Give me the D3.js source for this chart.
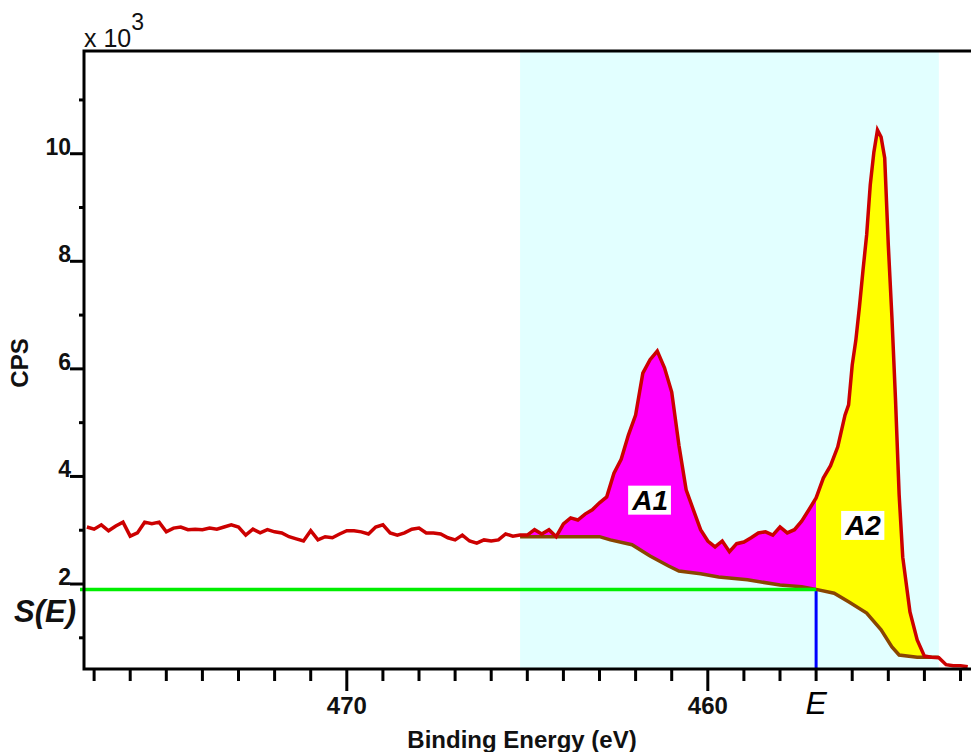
<!DOCTYPE html>
<html>
<head>
<meta charset="utf-8">
<script src="https://cdn.jsdelivr.net/npm/d3@7"></script>
<style>
	body { margin: 0; background: #fff; }
	svg { display: block; font-family: "Liberation Sans", Arial, sans-serif; }
</style>
</head>
<body>
<svg id="svg"></svg>
<script>

// spectrum, binding energy (eV) and counts (x 10^3 CPS)
const energy = [
	477.2, 477.0, 476.8, 476.6, 476.4, 476.2, 476.0, 475.8, 475.6, 475.4,
	475.2, 475.0, 474.8, 474.6, 474.4, 474.2, 474.0, 473.8, 473.6, 473.4,
	473.2, 473.0, 472.8, 472.6, 472.4, 472.2, 472.0, 471.8, 471.6, 471.4,
	471.2, 471.0, 470.8, 470.6, 470.4, 470.2, 470.0, 469.8, 469.6, 469.4,
	469.2, 469.0, 468.8, 468.6, 468.4, 468.2, 468.0, 467.8, 467.6, 467.4,
	467.2, 467.0, 466.8, 466.6, 466.4, 466.2, 466.0, 465.8, 465.6, 465.4,
	465.2, 465.0, 464.8, 464.6, 464.4, 464.2, 464.0, 463.8, 463.6, 463.4,
	463.2, 463.0, 462.8, 462.6, 462.4, 462.2, 462.0, 461.8, 461.6, 461.4,
	461.2, 461.0, 460.8, 460.6, 460.4, 460.2, 460.0, 459.8, 459.6, 459.4,
	459.2, 459.0, 458.8, 458.6, 458.4, 458.2, 458.0, 457.8, 457.6, 457.4,
	457.2, 457.0, 456.8, 456.6, 456.4, 456.2, 456.1, 456.0, 455.9, 455.8,
	455.7, 455.6, 455.5, 455.4, 455.3, 455.2, 455.1, 455.0, 454.9, 454.8,
	454.7, 454.6, 454.4, 454.2, 454.0, 453.8, 453.6, 453.4, 453.2, 453.0,
	452.8
]
const counts = [
	3.06, 3.02, 3.10, 2.99, 3.08, 3.15, 2.89, 2.95, 3.15, 3.12,
	3.15, 2.97, 3.04, 3.06, 3.01, 3.02, 3.01, 3.04, 3.02, 3.06,
	3.10, 3.06, 2.91, 3.02, 2.95, 3.01, 2.97, 2.95, 2.88, 2.84,
	2.80, 2.99, 2.82, 2.88, 2.86, 2.93, 2.99, 2.99, 2.97, 2.93,
	3.06, 3.10, 2.95, 2.91, 2.95, 3.02, 3.04, 2.95, 2.95, 2.93,
	2.86, 2.82, 2.91, 2.80, 2.76, 2.82, 2.80, 2.82, 2.93, 2.89,
	2.91, 2.91, 3.01, 2.93, 3.01, 2.88, 3.12, 3.23, 3.19, 3.30,
	3.38, 3.51, 3.62, 4.06, 4.32, 4.77, 5.14, 5.92, 6.17, 6.33,
	6.02, 5.57, 4.58, 3.75, 3.38, 3.01, 2.80, 2.69, 2.80, 2.60,
	2.75, 2.78, 2.86, 2.95, 2.97, 2.91, 3.06, 2.95, 3.01, 3.17,
	3.38, 3.60, 3.97, 4.20, 4.55, 5.14, 5.33, 6.07, 6.53, 7.15,
	7.84, 8.49, 9.42, 10.03, 10.44, 10.31, 9.92, 8.30, 6.96, 5.42,
	3.66, 2.50, 1.48, 0.96, 0.66, 0.64, 0.63, 0.50, 0.48, 0.48,
	0.46
]

// background under the peaks
const bgEnergy = [465.2, 464.2, 463.0, 462.7, 462.1, 461.6, 461.1, 460.8, 460.2, 459.7, 458.9, 458.0, 457.4, 457.0, 456.5, 456.1, 455.6, 455.2, 454.9, 454.7, 454.2, 453.6]
const bgCounts = [2.88, 2.88, 2.88, 2.82, 2.73, 2.52, 2.34, 2.24, 2.19, 2.13, 2.08, 1.98, 1.95, 1.90, 1.83, 1.67, 1.46, 1.15, 0.83, 0.68, 0.64, 0.64]

const regionEnergy = [465.2, 453.6]
const markE = 457.0
const markS = 1.90

const peakLabels = ['A1', 'A2']
const peakLabelEnergy = [461.6, 455.7]
const peakLabelCounts = [3.57, 3.10]

const xMajor = [470, 460]
const xMinor = d3.range(453, 478)
const yMajor = [2, 4, 6, 8, 10]
const yMinor = [1, 3, 5, 7, 9, 11]

const doIt = () => {

	let w = 971
	let h = 752
	let pLeft = 84
	let pTop = 51
	let pBottom = 669

	let svg = d3.select('#svg')
		.attr('width', w).attr('height', h)

	let x = d3.scaleLinear()
		.domain([477.28, 452.0])
		.range([pLeft, pLeft + 25.28 * 36.1])

	let y = d3.scaleLinear()
		.domain([0.42, 11.91])
		.range([pBottom, pTop])

	svg.append('clipPath').attr('id', 'clip')
		.append('rect')
		.attr('x', pLeft).attr('y', pTop)
		.attr('width', w - pLeft).attr('height', pBottom - pTop)

	let plot = svg.append('g').attr('clip-path', 'url(#clip)')

	// highlighted region
	plot.append('rect')
		.attr('x', x(regionEnergy[0]))
		.attr('y', pTop)
		.attr('width', x(regionEnergy[1]) - x(regionEnergy[0]))
		.attr('height', pBottom - pTop)
		.attr('fill', '#e2ffff')

	const spectrum = energy.map((e, i) => [e, counts[i]])
	const background = bgEnergy.map((e, i) => [e, bgCounts[i]])

	let lineMkr = d3.line()
		.x(d => x(d[0]))
		.y(d => y(d[1]))

	const between = (pts, hi, lo) => pts.filter(d => d[0] <= hi + 1e-9 && d[0] >= lo - 1e-9)

	const fillArea = (hi, lo, clr) => {
		let pts = between(spectrum, hi, lo).concat(between(background, hi, lo).reverse())
		plot.append('path')
			.attr('d', lineMkr(pts) + 'Z')
			.attr('fill', clr)
			.attr('stroke', 'none')
	}

	fillArea(regionEnergy[0], markE, '#ff00ff')
	fillArea(markE, regionEnergy[1], '#ffff00')

	// S(E) and E markers
	svg.append('line')
		.attr('x1', pLeft - 4).attr('x2', x(markE))
		.attr('y1', y(markS)).attr('y2', y(markS))
		.attr('stroke', '#00ee00').attr('stroke-width', 3.5)

	plot.append('line')
		.attr('x1', x(markE)).attr('x2', x(markE))
		.attr('y1', y(markS)).attr('y2', pBottom)
		.attr('stroke', '#0000ff').attr('stroke-width', 3)

	plot.append('path')
		.attr('d', lineMkr(background))
		.attr('fill', 'none')
		.attr('stroke', '#8a4500')
		.attr('stroke-width', 3.5)

	plot.append('path')
		.attr('d', lineMkr(spectrum))
		.attr('fill', 'none')
		.attr('stroke', '#cc0000')
		.attr('stroke-width', 3.5)

	// peak labels
	peakLabels.forEach((lbl, i) => {
		let g = svg.append('g')
			.attr('transform', `translate(${x(peakLabelEnergy[i])},${y(peakLabelCounts[i])})`)
		let t = g.append('text')
			.attr('text-anchor', 'middle')
			.attr('dy', '0.36em')
			.attr('font-size', 28)
			.attr('font-weight', 'bold')
			.attr('font-style', 'italic')
			.attr('fill', '#000')
			.text(lbl)
		let bb = t.node().getBBox()
		g.insert('rect', 'text')
			.attr('x', bb.x - 3).attr('y', bb.y + 1)
			.attr('width', bb.width + 6).attr('height', bb.height - 2)
			.attr('fill', '#fff')
	})

	// frame
	svg.append('path')
		.attr('d', `M${w},${pTop}H${pLeft}V${pBottom}H${w}`)
		.attr('fill', 'none')
		.attr('stroke', '#000')
		.attr('stroke-width', 3)

	// x ticks
	svg.selectAll('.xtick').data(xMinor).enter().append('line')
		.attr('x1', d => x(d)).attr('x2', d => x(d))
		.attr('y1', pBottom).attr('y2', d => xMajor.includes(d) ? pBottom + 22 : pBottom + 12)
		.attr('stroke', '#000').attr('stroke-width', 3)

	svg.selectAll('.xlab').data(xMajor).enter().append('text')
		.attr('x', d => x(d)).attr('y', 714)
		.attr('text-anchor', 'middle')
		.attr('font-size', 24).attr('font-weight', 'bold')
		.attr('fill', '#111')
		.text(d => d)

	svg.append('text')
		.attr('x', x(markE)).attr('y', 714)
		.attr('text-anchor', 'middle')
		.attr('font-size', 32).attr('font-style', 'italic')
		.attr('fill', '#000')
		.text('E')

	// y ticks
	svg.selectAll('.ymaj').data(yMajor).enter().append('line')
		.attr('x1', pLeft - 14).attr('x2', pLeft)
		.attr('y1', d => y(d)).attr('y2', d => y(d))
		.attr('stroke', '#000').attr('stroke-width', 3)

	svg.selectAll('.ymin').data(yMinor).enter().append('line')
		.attr('x1', pLeft - 5).attr('x2', pLeft)
		.attr('y1', d => y(d)).attr('y2', d => y(d))
		.attr('stroke', '#000').attr('stroke-width', 3)

	svg.selectAll('.ylab').data(yMajor).enter().append('text')
		.attr('x', pLeft - 13).attr('y', d => y(d) + 1)
		.attr('text-anchor', 'end')
		.attr('font-size', 23).attr('font-weight', 'bold')
		.attr('fill', '#111')
		.text(d => d)

	svg.append('text')
		.attr('x', 14).attr('y', 622)
		.attr('font-size', 31).attr('font-weight', 'bold').attr('font-style', 'italic')
		.attr('fill', '#111')
		.text('S(E)')

	// axis titles
	svg.append('text')
		.attr('x', 522).attr('y', 748)
		.attr('text-anchor', 'middle')
		.attr('font-size', 24).attr('font-weight', 'bold')
		.attr('fill', '#111')
		.text('Binding Energy (eV)')

	svg.append('text')
		.attr('transform', 'translate(28,363) rotate(-90)')
		.attr('text-anchor', 'middle')
		.attr('font-size', 24).attr('font-weight', 'bold')
		.attr('fill', '#111')
		.text('CPS')

	let mult = svg.append('text')
		.attr('x', 84).attr('y', 47)
		.attr('font-size', 25)
		.attr('fill', '#111')
	mult.append('tspan').text('x 10')
	mult.append('tspan').attr('dy', -17).attr('font-size', 23).text('3')
}

doIt()

</script>
</body>
</html>
